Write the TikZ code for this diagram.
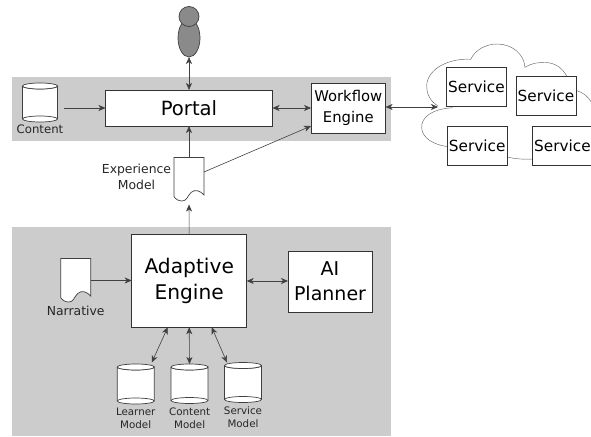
\documentclass[tikz,border=0pt]{standalone}
\usepackage{fontspec}
\setmainfont{DejaVu Sans}
\usetikzlibrary{arrows.meta,calc,shapes.geometric}
\definecolor{band}{HTML}{CCCCCC}
\definecolor{personfill}{HTML}{8A8A8A}
\newcommand{\fs}[1]{\fontsize{#1pt}{#1pt}\selectfont}
\tikzset{
  x=1pt,y=-1pt,
  boxnode/.style={draw=black!80,line width=0.8pt,fill=white,inner sep=0pt,outer sep=0pt,align=center},
  ghost/.style={inner sep=0pt,outer sep=0pt},
  shapeline/.style={draw=black!75,line width=0.7pt,fill=white},
  lbl/.style={inner sep=0pt,outer sep=0pt,align=center,text=black!85},
  link/.style={draw=black!75,line width=0.6pt,-{Stealth[length=7pt,width=6pt,inset=2pt]}},
  dlink/.style={draw=black!75,line width=0.6pt,{Stealth[length=7pt,width=6pt,inset=2pt]}-{Stealth[length=7pt,width=6pt,inset=2pt]}},
  cloudline/.style={draw=black!60,line width=0.45pt}
}
% name, left, top, width, height
\newcommand{\cyl}[5]{%
  \node[ghost,minimum width=#4pt,minimum height=#5pt] (#1) at ({#2+#4/2},{#3+#5/2}) {};
  \draw[shapeline] (#2,{#3+3}) -- (#2,{#3+#5-3}) arc[start angle=180,end angle=360,x radius=#4/2,y radius=-3]
    -- ({#2+#4},{#3+3}) arc[start angle=360,end angle=180,x radius=#4/2,y radius=-3];
  \draw[shapeline] ({#2+#4/2},{#3+3}) ellipse[x radius=#4/2,y radius=3];
  \draw[shapeline,fill=none] (#2,{#3+#5-3}) arc[start angle=180,end angle=0,x radius=#4/2,y radius=-3];
}
% name, left, top
\newcommand{\docshape}[3]{%
  \node[ghost,minimum width=30pt,minimum height=44pt] (#1) at ({#2+15},{#3+22}) {};
  \draw[shapeline] (#2,#3) -- ({#2+30},#3) -- ({#2+30},{#3+37.5})
    .. controls ({#2+26},{#3+33}) and ({#2+21},{#3+31.5}) .. ({#2+17},{#3+35})
    .. controls ({#2+13},{#3+39}) and ({#2+13},{#3+43.5}) .. ({#2+8},{#3+43.5})
    .. controls ({#2+4},{#3+43.5}) and ({#2+1},{#3+41}) .. (#2,{#3+39}) -- cycle;
}
\begin{document}
\begin{tikzpicture}
\useasboundingbox (0,0) rectangle (591,436);
\fill[band] (12,77) rectangle (391,141);
\fill[band] (12,227) rectangle (391,436);

% person
\node[ghost,draw=black!75,line width=0.7pt,fill=personfill,ellipse,minimum width=22pt,minimum height=38pt] (body) at (189,38) {};
\node[ghost,draw=black!75,line width=0.7pt,fill=personfill,circle,minimum size=20pt] (head) at (189,16.5) {};

% cloud
\draw[cloudline] (452.7,107.7) .. controls (432,109) and (421,117) .. (421.7,128)
  .. controls (422,138) and (434,145) .. (448,146.7);
\draw[cloudline] (438,106) .. controls (430,101) and (426.5,94) .. (426.7,85)
  .. controls (428,68) and (450,58) .. (470.7,59.3)
  .. controls (475,50) and (486,44) .. (497,44)
  .. controls (512,44) and (524,54) .. (525,67.3)
  .. controls (532,63) and (540,62) .. (546,62.5)
  .. controls (556,63) and (563,69) .. (566.7,76);
\draw[cloudline] (576.7,90.7) .. controls (583,92) and (588,97) .. (591,101.7);
\draw[cloudline] (507.5,157) .. controls (515,159) and (524,159.5) .. (532.5,159);

% boxes
\node[boxnode,minimum width=167pt,minimum height=36pt,font=\fs{19.6}] (portal) at (189,108) {Portal};
\node[boxnode,minimum width=74.5pt,minimum height=50pt,font=\fs{14.8}] (we) at (348.3,108) {Workflow\\[6pt]Engine};
\node[boxnode,minimum width=60.5pt,minimum height=39pt,font=\fs{15.3}] (s1) at (476.5,86.5) {Service};
\node[boxnode,minimum width=60pt,minimum height=39pt,font=\fs{15.3}] (s2) at (546,95.5) {Service};
\node[boxnode,minimum width=60.5pt,minimum height=39pt,font=\fs{15.3}] (s3) at (477.2,145.5) {Service};
\node[boxnode,minimum width=60pt,minimum height=39pt,font=\fs{15.3}] (s4) at (562.5,145.5) {Service};
\node[boxnode,minimum width=115pt,minimum height=92.5pt,font=\fs{20.2}] (ae) at (189.2,281) {Adaptive\\[6pt]Engine};
\node[boxnode,minimum width=84pt,minimum height=61pt,font=\fs{19}] (ai) at (330,281.5) {AI\\[6pt]Planner};

% stores
\cyl{content}{22.5}{83}{35}{39}
\cyl{lm}{117.3}{364}{37}{40}
\cyl{cm}{171}{364}{37}{39.5}
\cyl{sm}{224.5}{362.5}{37}{40}
\docshape{exp}{174}{157.5}
\docshape{nar}{60.7}{258.5}

% labels
\node[lbl,font=\fs{11.7}] (contentl) at (40,129.5) {Content};
\node[lbl,font=\fs{12.4},anchor=center] (expl) at (136.5,177) {Experience\\[3pt]Model};
\node[lbl,font=\fs{12.4}] (narl) at (75.7,311) {Narrative};
\node[lbl,font=\fs{10.3}] (lml) at (135.7,418) {Learner\\[3pt]Model};
\node[lbl,font=\fs{10.3}] (cml) at (189.7,418) {Content\\[3pt]Model};
\node[lbl,font=\fs{10.3}] (sml) at (243,417) {Service\\[3pt]Model};

% connectors
\draw[dlink] (body.south) -- (portal.north);
\draw[link] ([xshift=6.5pt,yshift=-5.5pt]content.east) -- (portal.west);
\draw[dlink] (portal.east) -- (we.west);
\draw[link] (exp.north) -- (portal.south);
\draw[link] ([yshift=7.5pt]exp.east) -- ([yshift=-18pt]we.west);
\draw[link] (ae.north) -- ([yshift=-3pt]exp.south);
\draw[dlink] ([yshift=1pt]we.east) -- (438,107);
\draw[link] (nar.east) -- (nar.east -| ae.west);
\draw[dlink] (ae.east) -- (ae.east -| ai.west);
\draw[dlink] ([xshift=-21.5pt]ae.south) -- ([xshift=16pt,yshift=1.5pt]lm.north);
\draw[dlink] (ae.south) -- (cm.north);
\draw[dlink] ([xshift=22.5pt]ae.south) -- ([xshift=-16pt]sm.north);
\end{tikzpicture}
\end{document}
